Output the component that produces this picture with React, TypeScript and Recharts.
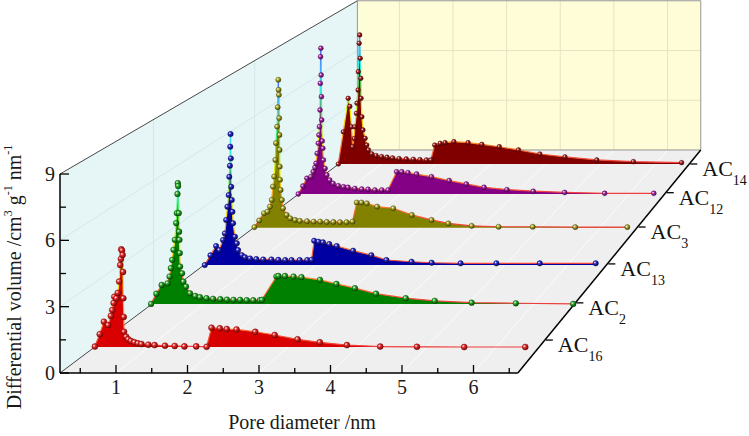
import React from 'react';
import { ComposedChart, Area, XAxis, YAxis, ReferenceLine, Scatter } from 'recharts';

// ---------------- data ----------------
const seriesSubs = ['16', '2', '13', '3', '12', '14'];
// depth position of each sample row (0 = front plane, 1 = back wall)
const seriesDepths = [0.09, 0.252, 0.413, 0.583, 0.753, 0.918];
const labelDepths = [0.115, 0.256, 0.418, 0.587, 0.76, 0.918];
const xTicks = [0.5, 1, 1.5, 2, 2.5, 3, 3.5, 4, 4.5, 5, 5.5, 6, 6.5];
const yTicks = [0, 1.5, 3, 4.5, 6, 7.5, 9];
const gridX = [1, 2, 3, 4, 5, 6];
const gridY = [3, 6];
const gridDepths = [0.256, 0.587];

const ac16: [number, number][] = [
  [0.22, 0.02], [0.29, 0.6], [0.35, 1.18], [0.41, 1.02], [0.45, 1.45], [0.47, 1.72], [0.49, 2.05], [0.5, 2.34],
  [0.53, 2.27], [0.55, 2.52], [0.57, 3.05], [0.585, 3.82], [0.595, 4.1], [0.6, 4.55], [0.61, 4.5], [0.62, 4.29],
  [0.626, 3.5], [0.63, 2.27], [0.636, 1.4], [0.64, 0.71], [0.67, 0.48], [0.7, 0.36], [0.74, 0.28], [0.79, 0.22],
  [0.84, 0.17], [0.89, 0.14], [0.99, 0.11], [1.08, 0.09], [1.23, 0.06], [1.37, 0.05], [1.51, 0.03], [1.68, 0.03],
  [1.83, 0.01], [1.9, 0.9], [2.02, 0.87], [2.12, 0.84], [2.26, 0.82], [2.53, 0.71], [2.81, 0.56], [3.14, 0.36],
  [3.46, 0.22], [3.85, 0.09], [4.33, 0.02], [4.86, 0.01], [5.54, 0], [6.42, 0],
];
const ac2: [number, number][] = [
  [0.2, 0], [0.28, 0.5], [0.36, 0.93], [0.45, 1.01], [0.48, 1.34], [0.5, 1.75], [0.52, 2.16], [0.54, 2.65],
  [0.56, 3.14], [0.58, 3.96], [0.59, 4.45], [0.6, 5.39], [0.605, 5.92], [0.61, 5.78], [0.62, 4.45], [0.625, 3.54],
  [0.63, 3.14], [0.635, 2.49], [0.64, 1.83], [0.67, 1.5], [0.69, 1.09], [0.73, 0.85], [0.79, 0.52], [0.87, 0.39],
  [0.94, 0.33], [1.04, 0.28], [1.14, 0.25], [1.25, 0.23], [1.35, 0.21], [1.45, 0.2], [1.55, 0.2], [1.65, 0.18],
  [1.75, 0.18], [1.85, 0.18], [1.88, 0.2], [2.1, 1.34], [2.13, 1.37], [2.23, 1.37], [2.36, 1.34], [2.48, 1.31],
  [2.76, 1.18], [3.01, 0.98], [3.29, 0.77], [3.61, 0.5], [4.06, 0.28], [4.5, 0.15], [5.06, 0.06], [5.73, 0.03],
  [6.6, 0],
];
const ac13: [number, number][] = [
  [0.23, 0], [0.32, 0.5], [0.41, 0.98], [0.46, 0.77], [0.52, 1.29], [0.55, 1.63], [0.57, 2.32], [0.59, 3.0],
  [0.61, 3.6], [0.62, 4.54], [0.63, 5.11], [0.635, 6.09], [0.64, 6.74], [0.645, 5.49], [0.65, 4.03], [0.66, 3.35],
  [0.67, 2.74], [0.68, 2.15], [0.71, 1.46], [0.74, 1.12], [0.76, 0.77], [0.82, 0.51], [0.87, 0.4], [0.95, 0.34],
  [1.05, 0.31], [1.16, 0.29], [1.29, 0.29], [1.4, 0.27], [1.51, 0.26], [1.61, 0.26], [1.74, 0.26], [1.86, 0.26],
  [1.93, 0.27], [1.97, 1.25], [2.04, 1.2], [2.11, 1.17], [2.21, 1.08], [2.33, 0.98], [2.59, 0.74], [2.88, 0.51],
  [3.12, 0.26], [3.52, 0.17], [3.84, 0.12], [4.3, 0.09], [4.87, 0.09], [5.56, 0.09], [6.45, 0.09],
];
const ac3: [number, number][] = [
  [0.23, 0.04], [0.31, 0.4], [0.39, 0.79], [0.45, 0.88], [0.49, 1.15], [0.52, 1.51], [0.54, 2.23], [0.56, 2.77],
  [0.58, 3.67], [0.59, 4.58], [0.61, 5.47], [0.62, 6.52], [0.63, 8.0], [0.635, 7.46], [0.64, 7.19], [0.645, 5.93],
  [0.65, 5.02], [0.652, 4.21], [0.655, 3.31], [0.66, 2.6], [0.67, 2.05], [0.69, 1.51], [0.71, 1.06], [0.77, 0.7],
  [0.83, 0.52], [0.91, 0.43], [0.99, 0.38], [1.11, 0.36], [1.22, 0.34], [1.33, 0.34], [1.44, 0.32], [1.55, 0.32],
  [1.66, 0.31], [1.77, 0.31], [1.87, 0.34], [1.94, 1.37], [2.02, 1.37], [2.11, 1.33], [2.28, 1.15], [2.55, 1.06],
  [2.86, 0.7], [3.19, 0.43], [3.47, 0.24], [3.86, 0.11], [4.31, 0.06], [4.88, 0.06], [5.59, 0.04], [6.46, 0.04],
];
const ac12: [number, number][] = [
  [0.21, 0], [0.29, 0.45], [0.36, 0.89], [0.43, 0.98], [0.47, 1.26], [0.5, 1.5], [0.52, 1.74], [0.54, 2.3],
  [0.56, 2.87], [0.57, 3.34], [0.58, 3.81], [0.59, 4.75], [0.595, 6.26], [0.6, 7.77], [0.605, 8.25], [0.61, 6.73],
  [0.615, 5.51], [0.62, 4.19], [0.63, 3.0], [0.64, 2.59], [0.65, 1.92], [0.68, 1.45], [0.71, 1.08], [0.76, 0.79],
  [0.82, 0.6], [0.91, 0.47], [1.0, 0.41], [1.08, 0.38], [1.2, 0.32], [1.32, 0.28], [1.43, 0.27], [1.55, 0.23],
  [1.67, 0.23], [1.78, 0.23], [1.93, 1.26], [2.02, 1.26], [2.13, 1.21], [2.28, 1.13], [2.54, 0.98], [2.85, 0.76],
  [3.15, 0.57], [3.46, 0.38], [3.86, 0.25], [4.32, 0.16], [4.87, 0.09], [5.57, 0.04], [6.43, 0.04],
];
const ac14: [number, number][] = [
  [0.21, 0], [0.3, 1.9], [0.39, 3.88], [0.42, 3.4], [0.45, 2.2], [0.47, 1.02], [0.5, 1.5], [0.51, 2.2],
  [0.54, 2.99], [0.55, 3.59], [0.57, 4.37], [0.575, 5.45], [0.59, 7.13], [0.6, 7.62], [0.61, 6.24], [0.62, 5.06],
  [0.625, 3.88], [0.64, 2.79], [0.66, 2.01], [0.7, 1.52], [0.73, 1.12], [0.76, 0.83], [0.82, 0.6], [0.9, 0.5],
  [1.0, 0.44], [1.1, 0.4], [1.2, 0.36], [1.32, 0.32], [1.45, 0.3], [1.58, 0.28], [1.7, 0.26], [1.82, 0.24],
  [1.9, 0.24], [1.97, 1.12], [2.07, 1.22], [2.16, 1.26], [2.32, 1.32], [2.58, 1.26], [2.83, 1.16], [3.15, 1.02],
  [3.5, 0.83], [3.89, 0.59], [4.35, 0.42], [4.93, 0.24], [5.6, 0.14], [6.48, 0.08],
];
const seriesData = [ac16, ac2, ac13, ac3, ac12, ac14];

// ---------------- style ----------------
const FONT = '"Liberation Serif", "Times New Roman", serif';
const fillColors = ['#d80000', '#008000', '#0000a2', '#828200', '#840084', '#800000'];
const dotMid = ['#e83030', '#30b030', '#3030d0', '#b0b030', '#b030b0', '#a82020'];
const dotDark = ['#700000', '#004000', '#000050', '#404000', '#400040', '#400000'];
const cmapVals = [0, 1.5, 3, 4.5, 6, 7.5, 9];
const cmapColors = ['#f03c3c', '#ff9020', '#f0f000', '#50f050', '#30f0f0', '#4a8cff', '#2828ff'];

// ---------------- projection (perspective box) ----------------
const VX = 16.854;
const VY = 40.344;
const KD = 1 / 3;
const X_DOMAIN: [number, number] = [(60 - 44.5) / 71.5, (749 - 44.5) / 71.5];
const Y_DOMAIN: [number, number] = [0, 373 / 22.11];
const X_MIN = X_DOMAIN[0];
const X_MAX = 6.62;
const Z_TOP = 9;
const depthScale = (t: number) => 1 / (1 + KD * t);
const proj = (x: number, y: number, t: number) => {
  const s = depthScale(t);
  return { X: VX + (x - VX) * s, Y: VY + (y - VY) * s };
};

const BL0 = proj(X_MIN, 0, 1);
const BL9 = proj(X_MIN, Z_TOP, 1);
const BR0 = proj(X_MAX, 0, 1);
const FR0 = proj(X_MAX, 0, 0);

const leftWall = [
  { X: X_MIN, r: [0, Z_TOP] },
  { X: BL0.X, r: [BL0.Y, BL9.Y] },
];
const floorArea = [
  { X: X_MIN, r: [0, 0] },
  { X: BL0.X, r: [0, BL0.Y] },
  { X: FR0.X, r: [0, BL0.Y] },
  { X: BR0.X, r: [BL0.Y, BL0.Y] },
];
const backWall = [
  { X: BL0.X, r: [BL0.Y, BL9.Y] },
  { X: BR0.X, r: [BL0.Y, BL9.Y] },
];

type P = { X: number; Y: number };
const seg = (a: P, b: P) => [{ x: a.X, y: a.Y }, { x: b.X, y: b.Y }];

const gridSegs: { s: any; c: string }[] = [];
gridX.forEach((x) => {
  gridSegs.push({ s: seg(proj(x, 0, 1), proj(x, Z_TOP, 1)), c: '#e4e4c4' });
  gridSegs.push({ s: seg(proj(x, 0, 0), proj(x, 0, 1)), c: '#fbfbfb' });
});
gridY.forEach((y) => {
  gridSegs.push({ s: seg(proj(X_MIN, y, 1), proj(X_MAX, y, 1)), c: '#e4e4c4' });
  gridSegs.push({ s: seg(proj(X_MIN, y, 0), proj(X_MIN, y, 1)), c: '#d3e8e8' });
});
gridDepths.forEach((t) => {
  gridSegs.push({ s: seg(proj(X_MIN, 0, t), proj(X_MIN, Z_TOP, t)), c: '#d3e8e8' });
});

const thinEdges = [
  seg(proj(X_MIN, 0, 0), proj(X_MIN, 0, 1)),
  seg(proj(X_MIN, Z_TOP, 0), proj(X_MIN, Z_TOP, 1)),
];
const backEdges = [
  seg(proj(X_MIN, 0, 1), proj(X_MIN, Z_TOP, 1)),
  seg(proj(X_MIN, Z_TOP, 1), proj(X_MAX, Z_TOP, 1)),
  seg(proj(X_MAX, 0, 1), proj(X_MAX, Z_TOP, 1)),
  seg(proj(X_MIN, 0, 1), proj(X_MAX, 0, 1)),
];
const frontEdges = [
  seg(proj(X_MIN, 0, 0), proj(X_MAX, 0, 0)),
  seg(proj(X_MIN, 0, 0), proj(X_MIN, Z_TOP, 0)),
  seg(proj(X_MAX, 0, 0), proj(X_MAX, 0, 1)),
];

const labelPts = labelDepths.map((t, k) => ({ ...proj(X_MAX, 0, t), k }));

// colormap helpers for line gradient
const hex = (h: string) => [1, 3, 5].map((i) => parseInt(h.slice(i, i + 2), 16));
const cmapAt = (v: number) => {
  let i = 0;
  while (i < cmapVals.length - 2 && v > cmapVals[i + 1]) i++;
  const f = Math.max(0, Math.min(1, (v - cmapVals[i]) / (cmapVals[i + 1] - cmapVals[i])));
  const a = hex(cmapColors[i]);
  const b = hex(cmapColors[i + 1]);
  const c = a.map((av, j) => Math.round(av + (b[j] - av) * f));
  return `rgb(${c[0]},${c[1]},${c[2]})`;
};
const lineStops = (k: number) => {
  const M = Math.max(...seriesData[k].map((d) => d[1]));
  const stops = [{ off: 0, color: cmapAt(M) }];
  cmapVals
    .filter((v) => v < M)
    .reverse()
    .forEach((v) => stops.push({ off: 1 - v / M, color: cmapAt(v) }));
  return stops;
};

const renderXTick = (props: any) => {
  const { x, y, payload } = props;
  const v = payload.value;
  const major = Number.isInteger(v);
  return (
    <g>
      <line x1={x} y1={y} x2={x} y2={y - (major ? 8 : 5)} stroke="#000" strokeWidth={1.3} />
      {major && (
        <text x={x} y={y + 21} textAnchor="middle" fontFamily={FONT} fontSize={20} fill="#1a1a1a">
          {v}
        </text>
      )}
    </g>
  );
};
const renderYTick = (props: any) => {
  const { x, y, payload } = props;
  const v = payload.value;
  const major = v % 3 === 0;
  return (
    <g>
      <line x1={x} y1={y} x2={x + (major ? 9 : 6)} y2={y} stroke="#000" strokeWidth={1.3} />
      {major && (
        <text x={x - 5} y={y + 7} textAnchor="end" fontFamily={FONT} fontSize={20} fill="#1a1a1a">
          {v}
        </text>
      )}
    </g>
  );
};

const XTitle = () => (
  <text x={302} y={429} textAnchor="middle" fontFamily={FONT} fontSize={20} fill="#1a1a1a">
    Pore diameter /nm
  </text>
);
const YTitle = () => (
  <text
    x={21}
    y={277}
    transform="rotate(-90, 21, 277)"
    textAnchor="middle"
    fontFamily={FONT}
    fontSize={20}
    fill="#1a1a1a"
  >
    Differential volume /cm
    <tspan dy={-9} fontSize={12}>3</tspan>
    <tspan dy={9}> g</tspan>
    <tspan dy={-9} fontSize={12}>-1</tspan>
    <tspan dy={9}> nm</tspan>
    <tspan dy={-9} fontSize={12}>-1</tspan>
  </text>
);

const order = [5, 4, 3, 2, 1, 0];

export default function App() {
  return (
    <div style={{ position: 'absolute', left: 0, top: 0, width: 749, height: 436, background: '#ffffff' }}>
      <ComposedChart width={749} height={436} margin={{ top: 0, right: 0, bottom: 0, left: 0 }}>
        <defs>
          {fillColors.map((c, k) => (
            <radialGradient key={`sp${k}`} id={`sp${k}`} cx="35%" cy="35%" r="70%">
              <stop offset="0%" stopColor="#ffffff" />
              <stop offset="35%" stopColor={dotMid[k]} />
              <stop offset="100%" stopColor={dotDark[k]} />
            </radialGradient>
          ))}
          {fillColors.map((c, k) => (
            <linearGradient key={`lg${k}`} id={`lg${k}`} x1="0" y1="0" x2="0" y2="1">
              {lineStops(k).map((st, i) => (
                <stop key={i} offset={st.off} stopColor={st.color} />
              ))}
            </linearGradient>
          ))}
        </defs>
        <XAxis
          type="number"
          dataKey="X"
          domain={X_DOMAIN}
          ticks={xTicks}
          interval={0}
          height={63}
          axisLine={false}
          tickLine={false}
          tickSize={0}
          tickMargin={0}
          tick={renderXTick}
          label={<XTitle />}
        />
        <YAxis
          type="number"
          domain={Y_DOMAIN}
          ticks={yTicks}
          interval={0}
          width={60}
          axisLine={false}
          tickLine={false}
          tickSize={0}
          tickMargin={0}
          tick={renderYTick}
          label={<YTitle />}
        />
        <Area data={leftWall} dataKey="r" type="linear" fill="#e6f6f6" fillOpacity={1} stroke="none" dot={false} activeDot={false} isAnimationActive={false} zIndex={1} />
        <Area data={floorArea} dataKey="r" type="linear" fill="#efefef" fillOpacity={1} stroke="none" dot={false} activeDot={false} isAnimationActive={false} zIndex={1} />
        <Area data={backWall} dataKey="r" type="linear" fill="#fefdd8" fillOpacity={1} stroke="none" dot={false} activeDot={false} isAnimationActive={false} zIndex={1} />
        {gridSegs.map((g, i) => (
          <ReferenceLine key={`g${i}`} segment={g.s} stroke={g.c} strokeWidth={1} ifOverflow="visible" zIndex={2} />
        ))}
        {backEdges.map((s, i) => (
          <ReferenceLine key={`be${i}`} segment={s} stroke="#8a8a8a" strokeWidth={0.9} ifOverflow="visible" zIndex={3} />
        ))}
        {thinEdges.map((s, i) => (
          <ReferenceLine key={`te${i}`} segment={s} stroke="#333333" strokeWidth={0.9} ifOverflow="visible" zIndex={3} />
        ))}
        {order.map((k) => {
          const t = seriesDepths[k];
          const s = depthScale(t);
          const data = seriesData[k].map(([x, y]) => proj(x, y, t));
          const base = proj(0, 0, t).Y;
          return (
            <Area
              key={`s${k}`}
              data={data}
              dataKey="Y"
              type="linear"
              baseValue={base}
              fill={fillColors[k]}
              fillOpacity={1}
              stroke={`url(#lg${k})`}
              strokeWidth={1.2}
              dot={(p: any) => (
                <circle
                  key={`d${k}-${p.index}`}
                  cx={p.cx}
                  cy={p.cy}
                  r={3.1 * s}
                  fill={`url(#sp${k})`}
                  stroke={dotDark[k]}
                  strokeWidth={0.4}
                />
              )}
              activeDot={false}
              isAnimationActive={false}
              zIndex={10 + (5 - k)}
            />
          );
        })}
        {frontEdges.map((s, i) => (
          <ReferenceLine key={`fe${i}`} segment={s} stroke="#000000" strokeWidth={1.5} ifOverflow="visible" zIndex={50} />
        ))}
        <Scatter
          data={labelPts}
          dataKey="Y"
          isAnimationActive={false}
          zIndex={60}
          shape={(p: any) => {
            const k = p.payload.k;
            return (
              <g>
                <line x1={p.cx + 1} y1={p.cy} x2={p.cx + 8} y2={p.cy} stroke="#000" strokeWidth={1.3} />
                <text x={p.cx + 13} y={p.cy + 12} fontFamily={FONT} fontSize={22} fill="#111">
                  AC
                  <tspan dy={9} fontSize={14}>
                    {seriesSubs[k]}
                  </tspan>
                </text>
              </g>
            );
          }}
        />
      </ComposedChart>
    </div>
  );
}
